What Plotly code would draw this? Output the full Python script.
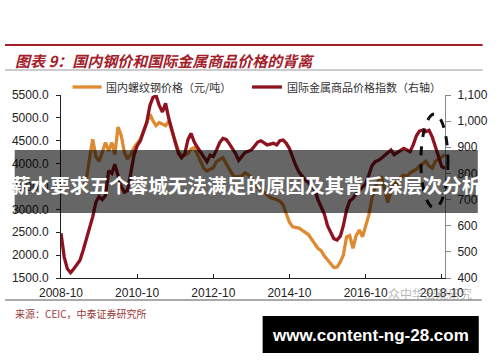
import pandas as pd
import plotly.graph_objects as go

# ---- data (monthly, 2008-10 .. 2018-11) ----
start_month = "2008-10-01"
metal_index = [
    571, 480, 435, 420, 435, 450, 468, 505, 545, 590,
    634, 690, 711, 700, 715, 810, 800, 835, 790, 750,
    728, 735, 800, 870, 905, 925, 960, 995, 1060, 1090,
    1098, 1060, 1035, 1068, 1010, 960, 920, 877, 860, 875,
    930, 953, 920, 900, 880, 860, 845, 870, 865, 890,
    918, 934, 930, 915, 896, 877, 850, 865, 880, 885,
    890, 905, 920, 925, 915, 909, 912, 915, 909, 925,
    928, 915, 895, 860, 830, 805, 790, 775, 765, 750,
    737, 700, 670, 645, 600, 575, 550, 545, 560, 600,
    660, 695, 705, 722, 735, 750, 760, 795, 830, 845,
    850, 858, 868, 880, 890, 872, 880, 890, 896, 890,
    883, 910, 945, 962, 966, 960, 965, 940, 902, 864,
    826, 820,
]
rebar_price = [
    None, None, None, None, None, None, None, 3450, 3650, 4100,
    4530, 4150, 4050, 4250, 4460, 4280, 4460, 4200, 4800, 4620,
    4250, 4100, 4200, 4350, 4450, 4530, 4700, 4900, 5080, 4940,
    4830, 4900, 4860, 4830, 4930, 4700, 4450, 4280, 4170, 4180,
    4220, 4320, 4350, 4200, 4030, 3900, 3840, 3880, 3910, 4050,
    4100, 4130, 4000, 3880, 3770, 3700, 3710, 3730, 3800, 3760,
    3690, 3560, 3480, 3430, 3380, 3320, 3260, 3240, 3210, 3180,
    3100, 2900, 2720, 2620, 2600, 2590, 2540, 2500, 2450, 2350,
    2250, 2150, 2100, 1980, 1900, 1800, 1730, 1740, 1850, 2000,
    2400, 2430, 2150, 2420, 2550, 2400, 2620, 2880, 3250, 3500,
    3640, 3720, 3450, 3150, 3400, 3600, 3550, 3700, 3750, 3720,
    3800, 3850, 3880, 3950, 4000, 4050, 3950, 3900, 4050, 4100,
    4170, 4200,
]
months = pd.date_range(start_month, periods=len(metal_index), freq="MS")
x_tick_vals = ["2008-10-01", "2010-10-01", "2012-10-01", "2014-10-01", "2016-10-01", "2018-10-01"]
x_tick_text = ["2008-10", "2010-10", "2012-10", "2014-10", "2016-10", "2018-10"]
left_ticks = [1500, 2000, 2500, 3000, 3500, 4000, 4500, 5000, 5500]
right_ticks = [400, 500, 600, 700, 800, 900, 1000, 1100]

name_rebar = "国内螺纹钢价格（元/吨）"
name_index = "国际金属商品价格指数（右轴）"
title_text = "图表 9：国内钢价和国际金属商品价格的背离"
source_text = "来源：CEIC，中泰证券研究所"
banner_text = "薪水要求五个蓉城无法满足的原因及其背后深层次分析"
site_text = "www.content-ng-28.com"
watermark_text = "众中华宏观研究"

ORANGE = "#DD8A33"
DARKRED = "#8E1220"
CJK = "Noto Sans CJK SC"
LAT = "Liberation Sans, Arial, sans-serif"

fig = go.Figure()
fig.add_trace(go.Scatter(x=months, y=rebar_price, name=name_rebar, mode="lines",
                         line=dict(color=ORANGE, width=3.3), yaxis="y"))
fig.add_trace(go.Scatter(x=months, y=metal_index, name=name_index, mode="lines",
                         line=dict(color=DARKRED, width=3.3), yaxis="y2"))

W, H = 500, 362
L, R, T, B = 58, 44, 95, 84
pw, ph = W - L - R, H - T - B

def px(xp):
    return (xp - L) / pw

def py(yp):
    return (H - B - yp) / ph

fig.update_layout(
    width=W, height=H,
    margin=dict(l=L, r=R, t=T, b=B, pad=0),
    paper_bgcolor="white", plot_bgcolor="white",
    showlegend=False,
    xaxis=dict(type="date", range=["2008-10-01", "2018-11-01"],
               tickvals=x_tick_vals, ticktext=x_tick_text,
               showline=True, linecolor="#222", linewidth=1,
               ticks="inside", ticklen=4, tickcolor="#222",
               showgrid=False, zeroline=False,
               tickfont=dict(family=LAT, size=12, color="#222"),
               ticklabelstandoff=4),
    yaxis=dict(range=[1500, 5500], tickvals=left_ticks, tickformat=".1f",
               showline=True, linecolor="#222", linewidth=1,
               ticks="outside", ticklen=4, tickcolor="#222",
               showgrid=False, zeroline=False,
               tickfont=dict(family=LAT, size=12, color="#222"),
               ticklabelstandoff=5),
    yaxis2=dict(range=[400, 1100], tickvals=right_ticks, tickformat=",",
                overlaying="y", side="right",
                showline=True, linecolor="#888", linewidth=1,
                ticks="outside", ticklen=5, tickcolor="#888",
                showgrid=False, zeroline=False,
                tickfont=dict(family=LAT, size=12, color="#222"),
                ticklabelstandoff=4),
)

shapes = [
    # top red rule
    dict(type="line", xref="paper", yref="paper", x0=px(0), x1=px(495), y0=py(45), y1=py(45),
         line=dict(color="#A3202A", width=2)),
    # gray rule under title
    dict(type="line", xref="paper", yref="paper", x0=px(0), x1=px(495), y0=py(70), y1=py(70),
         line=dict(color="#999", width=1)),
    # legend keys
    dict(type="line", xref="paper", yref="paper", x0=px(70), x1=px(100), y0=py(87), y1=py(87),
         line=dict(color=ORANGE, width=3.3)),
    dict(type="line", xref="paper", yref="paper", x0=px(256), x1=px(287), y0=py(87), y1=py(87),
         line=dict(color=DARKRED, width=3.3)),
    # bottom rule
    dict(type="line", xref="paper", yref="paper", x0=px(0), x1=px(494), y0=py(300), y1=py(300),
         line=dict(color="#555", width=1)),
    # dashed ellipse highlight
    dict(type="circle", xref="paper", yref="paper", x0=px(431), x1=px(459), y0=py(208), y1=py(114),
         line=dict(color="#111", width=3, dash="dash")),
    # banner overlay
    dict(type="rect", xref="paper", yref="paper", x0=px(10), x1=px(490), y0=py(213), y1=py(150),
         fillcolor="rgba(0,0,0,0.6)", line=dict(width=0), layer="above"),
    # black site box
    dict(type="rect", xref="paper", yref="paper", x0=px(267), x1=px(491), y0=py(353), y1=py(316),
         fillcolor="#000", line=dict(width=0), layer="above"),
]
fig.update_layout(shapes=shapes)

ann = [
    dict(text=f"<b><i>{title_text}</i></b>", x=px(8), y=py(60), xanchor="left", yanchor="middle",
         font=dict(family=CJK, size=15, color="#A3202A")),
    dict(text=name_rebar, x=px(103), y=py(87), xanchor="left", yanchor="middle",
         font=dict(family=CJK, size=11, color="#333")),
    dict(text=name_index, x=px(290), y=py(87), xanchor="left", yanchor="middle",
         font=dict(family=CJK, size=11, color="#333")),
    dict(text=source_text, x=px(8), y=py(313), xanchor="left", yanchor="middle",
         font=dict(family=CJK, size=10, color="#9B3A3A")),
    dict(text="<b>" + banner_text + "</b>", x=px(250), y=py(184), xanchor="center", yanchor="middle",
         font=dict(family=CJK, size=19.6, color="white")),
    dict(text="<b>" + site_text + "</b>", x=px(379), y=py(335), xanchor="center", yanchor="middle",
         font=dict(family=LAT, size=17, color="white")),
    dict(text=watermark_text, x=px(440), y=py(293), xanchor="center", yanchor="middle",
         font=dict(family=CJK, size=12, color="rgba(110,110,110,0.5)")),
]
for a in ann:
    a.update(xref="paper", yref="paper", showarrow=False)
fig.update_layout(annotations=ann)

fig.write_html("out.html")
